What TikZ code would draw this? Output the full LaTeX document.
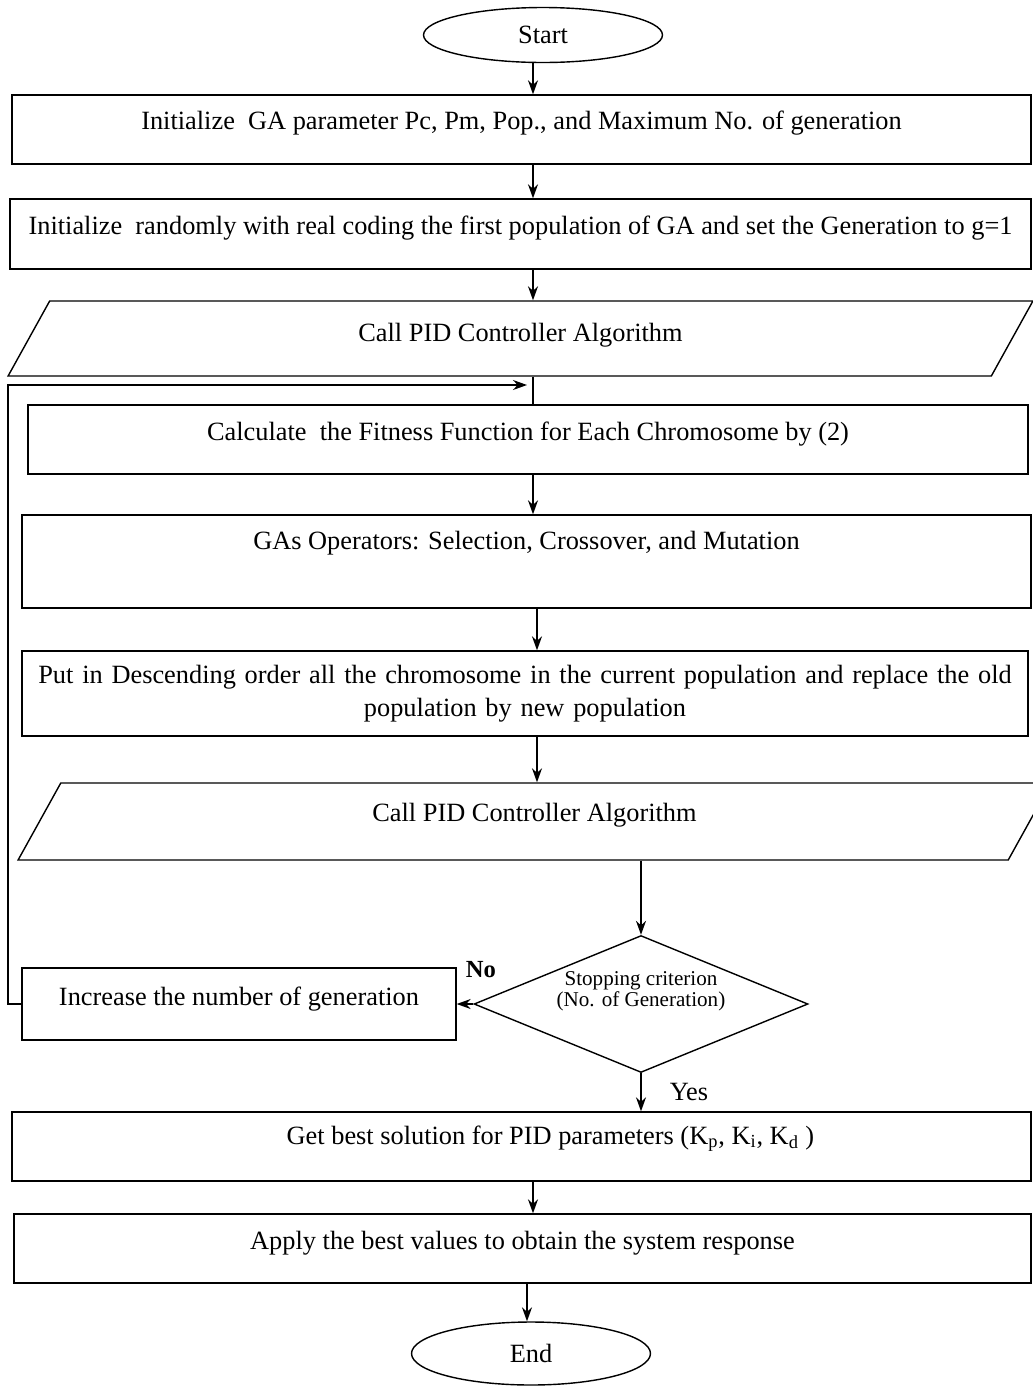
\documentclass[tikz,border=0pt]{standalone}
\usepackage{fontspec}
\setmainfont{Liberation Serif}
\usetikzlibrary{shapes.geometric,arrows.meta}
\begin{document}
\begin{tikzpicture}[x=0.02cm, y=-0.02cm, font=\fontsize{15}{19}\selectfont]

% definitions
\tikzstyle{terminal} = [ellipse, draw=black, line width=0.8pt, inner sep=0pt, minimum width=4.78cm, minimum height=1.1cm]

\tikzstyle{process} = [rectangle, draw=black, line width=0.8pt, inner xsep=0pt, inner ysep=0pt, align=center]

\tikzstyle{io} = [trapezium, trapezium left angle=61, trapezium right angle=119, trapezium stretches body, draw=black, line width=0.8pt, inner xsep=0pt, inner ysep=0pt]

\tikzstyle{decision} = [diamond, aspect=2.44, draw=black, line width=0.8pt, inner sep=0pt, minimum width=6.68cm, minimum height=2.74cm, align=center, font=\fontsize{12}{10.8}\selectfont, text height=0.68cm, text depth=0.58cm]

\tikzstyle{arrow} = [-{Stealth[length=0.28cm, width=0.2cm]}, line width=0.8pt]

\useasboundingbox (0,0) rectangle (1033,1387);

% the graph
\node (start) [terminal] at (543,35) {Start};

\node (init) [process, minimum width=20.38cm, text height=0.68cm, text depth=0.70cm] at (521.5,129.5) {Initialize\ \ GA parameter Pc, Pm, Pop., and Maximum No. of generation};

\node (pop) [process, minimum width=20.42cm, text height=0.70cm, text depth=0.70cm] at (520.5,234) {Initialize\ \ randomly with real coding the first population of GA and set the Generation to g=1};

\node (call1) [io, minimum width=20.5cm, text height=0.80cm, text depth=0.70cm] at (520.5,338.5) {Call PID Controller Algorithm};

\node (fit) [process, minimum width=20.0cm, text height=0.70cm, text depth=0.68cm] at (528,439.5) {Calculate\ \ the Fitness Function for Each Chromosome by (2)};

\node (ops) [process, minimum width=20.18cm, text height=0.68cm, text depth=1.18cm] at (526.5,561.5) {GAs Operators: Selection, Crossover, and Mutation};

\node (sort) [process, minimum width=20.12cm, text width=19.9cm, text height=0.64cm, text depth=1.06cm] at (525,693.5) {Put in Descending order all the chromosome in the current population and replace the old\\ population by new population};

\node (call2) [io, minimum width=20.66cm, text height=0.76cm, text depth=0.78cm] at (534.5,821.5) {Call PID Controller Algorithm};

\node (stop) [decision] at (641,1004) {Stopping criterion\\(No. of Generation)};

\node (incr) [process, minimum width=8.68cm, text height=0.74cm, text depth=0.70cm] at (239,1004) {Increase the number of generation};

\node (best) [process, minimum width=20.38cm, text height=0.64cm, text depth=0.74cm] at (521.5,1146.5) {\hspace*{1.16cm}Get best solution for PID parameters (K\textsubscript{p}, K\textsubscript{i}, K\textsubscript{d} )};

\node (apply) [process, minimum width=20.34cm, text height=0.70cm, text depth=0.68cm] at (522.5,1248.5) {Apply the best values to obtain the system response};

\node (finish) [terminal, minimum height=1.26cm] at (531,1353.5) {End};

\node (no) [font=\fontsize{14}{16}\bfseries] at (481,970) {No};
\node (yes) at (689,1092) {Yes};

\coordinate (spine) at (533,0);
\coordinate (spinetwo) at (537,0);
\coordinate (spineend) at (527,0);
\coordinate (rail) at (8,0);
\coordinate (merge) at (533,385);

\draw [arrow] (start.south -| spine) -- (init.north -| spine);
\draw [arrow] (init.south -| spine) -- (pop.north -| spine);
\draw [arrow] (pop.south -| spine) -- (call1.north -| spine);
\draw [line width=0.8pt] (call1.south -| spine) -- (fit.north -| spine);
\draw [arrow] (fit.south -| spine) -- (ops.north -| spine);
\draw [arrow] (ops.south -| spinetwo) -- (sort.north -| spinetwo);
\draw [arrow] (sort.south -| spinetwo) -- (call2.north -| spinetwo);
\draw [arrow] (call2.south -| stop) -- (stop.north);
\draw [arrow] (stop.west) -- (incr.east);
\draw [arrow] (stop.south) -- (best.north -| stop);
\draw [arrow] (best.south -| spine) -- (apply.north -| spine);
\draw [arrow] (apply.south -| spineend) -- (finish.north -| spineend);
\draw [arrow, shorten >=0.12cm] (incr.west) -- (incr.west -| rail) |- (merge);

\end{tikzpicture}
\end{document}
